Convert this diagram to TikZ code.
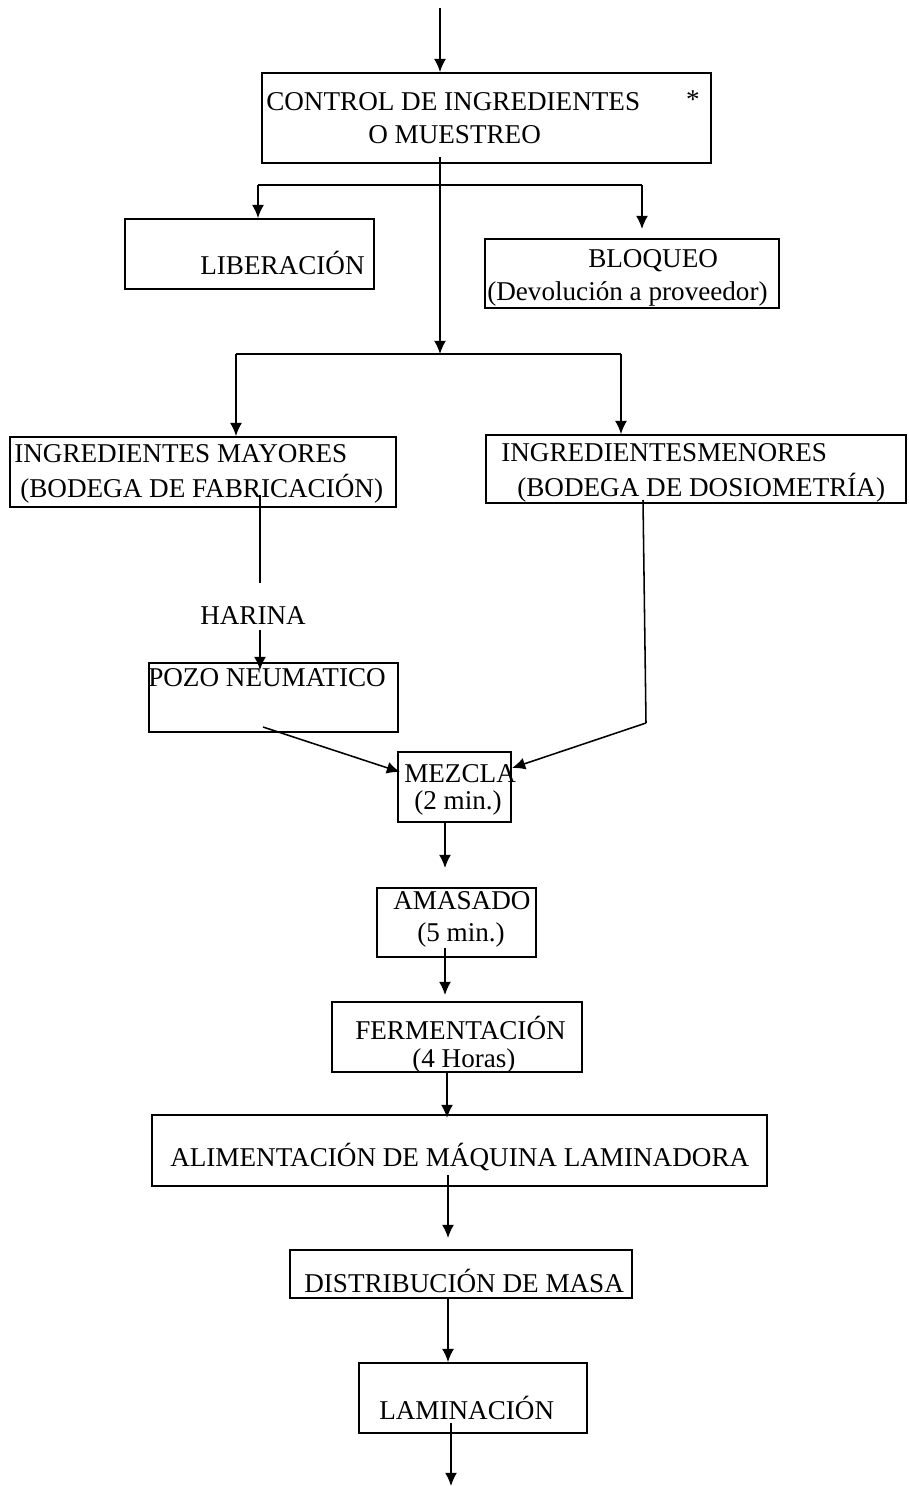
\documentclass[tikz,border=0pt]{standalone}
\usepackage{fontspec}
\setmainfont{Liberation Serif}
\usetikzlibrary{arrows.meta,fit}

\tikzset{
  caja/.style={draw, line width=1.3pt, inner sep=0pt},
  texto/.style={anchor=west, inner sep=0pt, font=\fontsize{19.3}{24}\selectfont},
  flecha/.style={line width=1.1pt, -{Latex[length=3.3mm,width=3mm]}},
  linea/.style={line width=1.1pt}
}

\begin{document}
\begin{tikzpicture}[x=0.025cm, y=-0.025cm]
  \useasboundingbox[fill=white] (0,0) rectangle (908,1486);

  %cajas%
  \node[caja, fit={(262,73) (711,163)}] (ctrl) {};
  \node[caja, fit={(125,219) (374,289)}] (lib) {};
  \node[caja, fit={(485,239) (779,308)}] (bloq) {};
  \node[caja, fit={(10,437) (396,507)}] (mayor) {};
  \node[caja, fit={(486,435) (906,503)}] (menor) {};
  \node[caja, fit={(149,663) (398,732)}] (pozo) {};
  \node[caja, fit={(398,752) (511,822)}] (mezcla) {};
  \node[caja, fit={(377,888) (536,957)}] (amas) {};
  \node[caja, fit={(332,1002) (582,1072)}] (ferm) {};
  \node[caja, fit={(152,1115) (767,1186)}] (alim) {};
  \node[caja, fit={(290,1250) (632,1298)}] (dist) {};
  \node[caja, fit={(359,1363) (587,1433)}] (lam) {};

  %textos%
  \node[texto] (t1) at (266,102) {CONTROL DE INGREDIENTES};
  \node[texto] (t1b) at (368,135) {O MUESTREO};
  \node[font=\fontsize{19.3}{24}\selectfont, inner sep=0pt] (ast) at (693,100) {*};
  \node[texto] (t2) at (200,263) {LIBERACIÓN};
  \node[texto] (t3) at (588,261) {BLOQUEO};
  \node[texto] (t3b) at (487,294) {(Devolución a proveedor)};
  \node[texto] (t4) at (14,454) {INGREDIENTES MAYORES};
  \node[texto] (t4b) at (20,489) {(BODEGA DE FABRICACIÓN)};
  \node[texto] (t5) at (501,453) {INGREDIENTESMENORES};
  \node[texto] (t5b) at (517,488) {(BODEGA DE DOSIOMETRÍA)};
  \node[texto] (harina) at (200,616) {HARINA};
  \node[texto] (t6) at (148,678) {POZO NEUMATICO};
  \node[texto] (t7) at (404,774) {MEZCLA};
  \node[texto] (t7b) at (414,803) {(2 min.)};
  \node[texto] (t8) at (393,901) {AMASADO};
  \node[texto] (t8b) at (417,935) {(5 min.)};
  \node[texto] (t9) at (355,1028) {FERMENTACIÓN};
  \node[texto] (t9b) at (412,1061) {(4 Horas)};
  \node[texto] (t10) at (170,1157) {ALIMENTACIÓN DE MÁQUINA LAMINADORA};
  \node[texto] (t11) at (304,1281) {DISTRIBUCIÓN DE MASA};
  \node[texto] (t12) at (379,1408) {LAMINACIÓN};

  %puntos de las lineas%
  \coordinate (entrada) at (440,8);
  \coordinate (c1) at (440,157);
  \coordinate (bl) at (258,185);
  \coordinate (br) at (642,185);
  \coordinate (brtip) at (642,229);
  \coordinate (sl) at (236,354);
  \coordinate (sr) at (621,354);
  \coordinate (h1) at (260,495);
  \coordinate (h2) at (260,583);
  \coordinate (h3) at (260,630);
  \coordinate (h4) at (260,670);
  \coordinate (p1) at (263,727);
  \coordinate (m1) at (400,772);
  \coordinate (n1) at (643,500);
  \coordinate (n2) at (646,723);
  \coordinate (m2) at (512,768);
  \coordinate (a1) at (445,822);
  \coordinate (a2) at (445,868);
  \coordinate (f1) at (445,948);
  \coordinate (f2) at (445,995);
  \coordinate (l1) at (447,1118);
  \coordinate (d1) at (448,1175);
  \coordinate (d2) at (448,1238);
  \coordinate (s1) at (451,1423);
  \coordinate (salida) at (451,1486);

  %conectores%
  \draw[flecha] (entrada) -- (entrada |- ctrl.north);
  \draw[flecha] (c1) -- (c1 |- sl);
  \draw[linea] (bl) -- (br);
  \draw[flecha] (bl) -- (bl |- lib.north);
  \draw[flecha] (br) -- (brtip);
  \draw[linea] (sl) -- (sr);
  \draw[flecha] (sl) -- (sl |- mayor.north);
  \draw[flecha] (sr) -- (sr |- menor.north);
  \draw[linea] (h1) -- (h2);
  \draw[flecha] (h3) -- (h4);
  \draw[flecha] (p1) -- (m1);
  \draw[linea] (n1) -- (n2);
  \draw[flecha] (n2) -- (m2);
  \draw[flecha] (a1) -- (a2);
  \draw[flecha] (f1) -- (f2);
  \draw[flecha] (ferm.south -| l1) -- (l1);
  \draw[flecha] (d1) -- (d2);
  \draw[flecha] (dist.south -| d2) -- (d2 |- lam.north);
  \draw[flecha] (s1) -- (salida);
\end{tikzpicture}
\end{document}
